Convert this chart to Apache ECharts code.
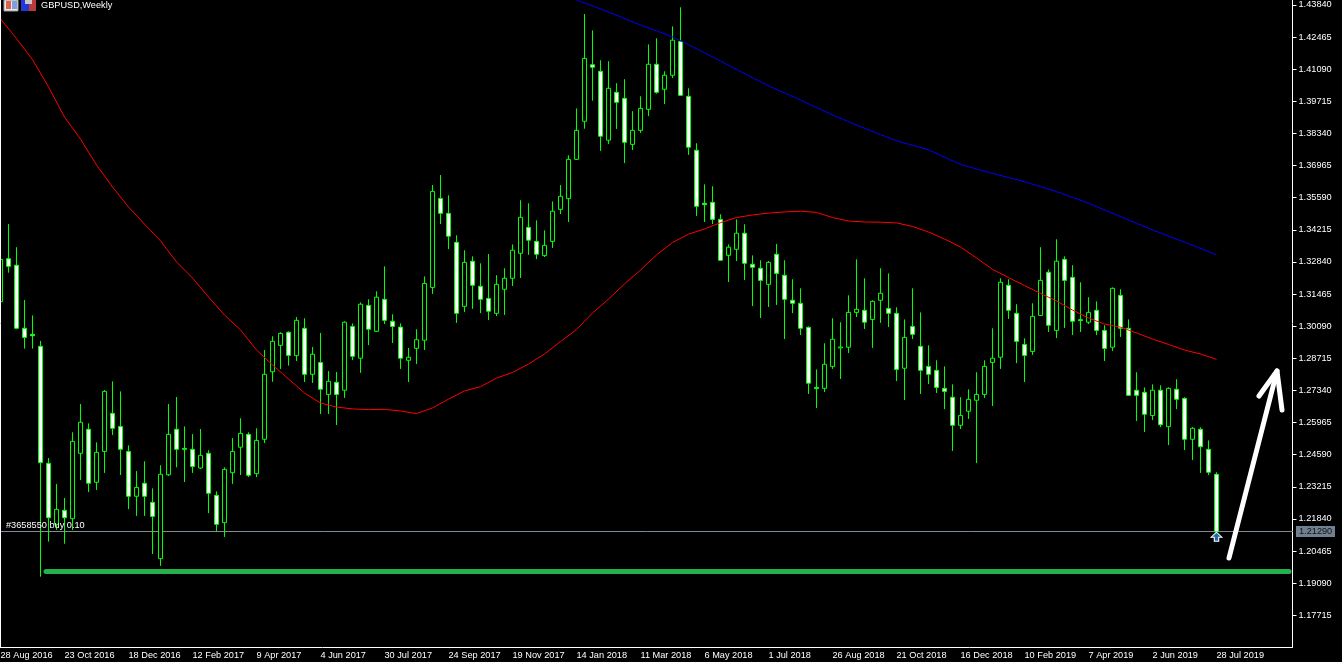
<!DOCTYPE html>
<html>
<head>
<meta charset="utf-8">
<title>GBPUSD,Weekly</title>
<script src="https://cdn.jsdelivr.net/npm/echarts@6/dist/echarts.min.js"></script>
<style>
html,body{margin:0;padding:0;background:#000;}
#Map{width:1342px;height:662px;}
</style>
</head>
<body>
<div id="Map"></div>
<script>
// weekly bars, each one is [open, close, low, high]
var candles = [
[1.3114,1.3295,1.3078,1.3335],[1.3298,1.3265,1.3238,1.3446],[1.3270,1.3000,1.2996,1.3347],[1.3000,1.2961,1.2913,1.3121],
[1.2974,1.2968,1.2913,1.3055],[1.2923,1.2425,1.1937,1.2946],[1.2422,1.2189,1.2087,1.2445],[1.2161,1.2225,1.2137,1.2334],
[1.2221,1.2189,1.2078,1.2274],[1.2185,1.2516,1.2137,1.2555],[1.2465,1.2598,1.2351,1.2676],[1.2568,1.2337,1.2299,1.2593],
[1.2341,1.2469,1.2308,1.2512],[1.2473,1.2730,1.2381,1.2736],[1.2636,1.2572,1.2543,1.2773],[1.2580,1.2482,1.2372,1.2730],
[1.2473,1.2281,1.2226,1.2499],[1.2281,1.2319,1.2197,1.2389],[1.2337,1.2281,1.2197,1.2431],[1.2255,1.2195,1.2034,1.2315],
[1.2014,1.2375,1.1983,1.2414],[1.2373,1.2546,1.2368,1.2676],[1.2568,1.2482,1.2405,1.2706],[1.2486,1.2482,1.2342,1.2580],
[1.2482,1.2408,1.2381,1.2547],[1.2402,1.2456,1.2398,1.2569],[1.2465,1.2294,1.2209,1.2478],[1.2285,1.2161,1.2132,1.2302],
[1.2168,1.2396,1.2107,1.2405],[1.2382,1.2473,1.2334,1.2530],[1.2491,1.2550,1.2372,1.2615],[1.2546,1.2371,1.2363,1.2555],
[1.2378,1.2520,1.2363,1.2572],[1.2525,1.2803,1.2509,1.2907],[1.2814,1.2944,1.2771,1.2966],[1.2927,1.2978,1.2826,1.2983],
[1.2983,1.2884,1.2840,1.2987],[1.2883,1.3034,1.2860,1.3048],[1.3000,1.2803,1.2770,1.3043],[1.2803,1.2889,1.2766,1.2920],
[1.2854,1.2739,1.2633,1.2980],[1.2717,1.2773,1.2633,1.2817],[1.2769,1.2717,1.2586,1.2813],[1.2735,1.3026,1.2702,1.3030],
[1.3008,1.2880,1.2864,1.3021],[1.2872,1.3103,1.2809,1.3111],[1.3098,1.2996,1.2928,1.3124],[1.2987,1.3133,1.2984,1.3158],
[1.3124,1.3034,1.3018,1.3265],[1.3030,1.3008,1.2937,1.3060],[1.3005,1.2872,1.2826,1.3021],[1.2863,1.2876,1.2770,1.2916],
[1.2914,1.2951,1.2847,1.2996],[1.2949,1.3192,1.2907,1.3222],[1.3175,1.3586,1.3147,1.3613],[1.3556,1.3492,1.3446,1.3656],
[1.3492,1.3394,1.3339,1.3569],[1.3368,1.3064,1.3023,1.3398],[1.3094,1.3282,1.3070,1.3334],[1.3287,1.3184,1.3083,1.3308],
[1.3180,1.3124,1.3065,1.3278],[1.3128,1.3073,1.3035,1.3318],[1.3064,1.3188,1.3052,1.3227],[1.3167,1.3214,1.3057,1.3257],
[1.3214,1.3334,1.3181,1.3359],[1.3321,1.3475,1.3215,1.3548],[1.3432,1.3377,1.3314,1.3535],[1.3372,1.3317,1.3296,1.3462],
[1.3311,1.3355,1.3305,1.3419],[1.3372,1.3501,1.3344,1.3543],[1.3509,1.3565,1.3489,1.3613],[1.3555,1.3723,1.3455,1.3740],
[1.3723,1.3847,1.3720,1.3941],[1.3886,1.4155,1.3854,1.4345],[1.4128,1.4117,1.3974,1.4275],[1.4100,1.3822,1.3759,1.4147],
[1.3805,1.4027,1.3789,1.4143],[1.4010,1.3967,1.3853,1.4049],[1.3984,1.3796,1.3707,1.4066],[1.3787,1.3847,1.3763,1.3929],
[1.3847,1.3941,1.3836,1.3993],[1.3937,1.4130,1.3908,1.4215],[1.4130,1.4010,1.4004,1.4241],[1.4023,1.4083,1.3960,1.4100],
[1.4083,1.4233,1.4071,1.4292],[1.4227,1.3997,1.3995,1.4374],[1.3993,1.3775,1.3742,1.4027],[1.3762,1.3522,1.3481,1.3792],
[1.3535,1.3529,1.3455,1.3616],[1.3539,1.3466,1.3446,1.3608],[1.3466,1.3291,1.3288,1.3488],[1.3312,1.3347,1.3198,1.3359],
[1.3338,1.3407,1.3288,1.3466],[1.3407,1.3278,1.3207,1.3445],[1.3274,1.3261,1.3095,1.3312],[1.3257,1.3205,1.3044,1.3291],
[1.3188,1.3282,1.3091,1.3288],[1.3317,1.3235,1.3100,1.3361],[1.3227,1.3124,1.2954,1.3291],[1.3120,1.3107,1.3065,1.3210],
[1.3107,1.3000,1.2971,1.3171],[1.3004,1.2765,1.2719,1.3008],[1.2747,1.2742,1.2659,1.2824],[1.2743,1.2846,1.2727,1.2936],
[1.2837,1.2953,1.2826,1.3043],[1.2916,1.2920,1.2783,1.3026],[1.2919,1.3068,1.2894,1.3141],[1.3068,1.3081,1.3048,1.3295],
[1.3077,1.3026,1.2997,1.3214],[1.3038,1.3115,1.2916,1.3120],[1.3120,1.3150,1.3023,1.3257],[1.3085,1.3064,1.3005,1.3235],
[1.3064,1.2824,1.2774,1.3090],[1.2829,1.2961,1.2693,1.3038],[1.3008,1.2974,1.2954,1.3171],[1.2923,1.2820,1.2719,1.3068],
[1.2837,1.2803,1.2761,1.2927],[1.2820,1.2747,1.2723,1.2863],[1.2743,1.2730,1.2654,1.2837],[1.2705,1.2585,1.2475,1.2760],
[1.2585,1.2627,1.2569,1.2705],[1.2645,1.2696,1.2612,1.2739],[1.2692,1.2717,1.2423,1.2812],[1.2717,1.2837,1.2702,1.2863],
[1.2854,1.2872,1.2667,1.3000],[1.2876,1.3197,1.2826,1.3214],[1.3184,1.3077,1.3040,1.3210],[1.3064,1.2944,1.2851,1.3103],
[1.2931,1.2884,1.2770,1.2957],[1.2901,1.3051,1.2886,1.3107],[1.3055,1.3205,1.3053,1.3347],[1.3240,1.3013,1.2984,1.3252],
[1.2991,1.3287,1.2958,1.3381],[1.3295,1.3205,1.3001,1.3308],[1.3218,1.3030,1.2971,1.3270],[1.3037,1.3033,1.2984,1.3197],
[1.3026,1.3068,1.3018,1.3133],[1.3077,1.2991,1.2971,1.3115],[1.2991,1.2914,1.2860,1.3013],[1.2919,1.3171,1.2903,1.3175],
[1.3141,1.3000,1.2963,1.3167],[1.3000,1.2713,1.2710,1.3038],[1.2735,1.2713,1.2603,1.2812],[1.2726,1.2632,1.2556,1.2747],
[1.2627,1.2735,1.2607,1.2760],[1.2735,1.2587,1.2577,1.2756],[1.2579,1.2743,1.2500,1.2747],[1.2739,1.2696,1.2654,1.2782],
[1.2700,1.2525,1.2479,1.2705],[1.2525,1.2572,1.2436,1.2577],[1.2568,1.2493,1.2381,1.2576],[1.2482,1.2384,1.2372,1.2520],
[1.2375,1.2129,1.2129,1.2384]
];

// moving averages. red, blue every 4th
var redStep = 2;
var redMA = [1.4324,1.4240,1.4150,1.4033,1.3904,1.3810,1.3699,1.3605,1.3519,1.3446,1.3374,1.3284,1.3215,1.3134,
  1.3057,1.2993,1.2907,1.2843,1.2783,1.2723,1.2680,1.2663,1.2655,1.2652,1.2653,1.2646,1.2635,1.2659,1.2697,
  1.2732,1.2750,1.2787,1.2811,1.2847,1.2890,1.2943,1.2995,1.3065,1.3125,1.3190,1.3249,1.3314,1.3367,1.3403,
  1.3425,1.3452,1.3474,1.3485,1.3493,1.3498,1.3501,1.3496,1.3474,1.3459,1.3455,1.3454,1.3451,1.3436,1.3412,
  1.3382,1.3348,1.3301,1.3252,1.3217,1.3183,1.3149,1.3117,1.3078,1.3044,1.3018,1.3005,1.2980,1.2954,1.2931,
  1.2907,1.2890,1.2867];
var blueStart = 72;
var blueStep = 4;
var blueMA = [1.4405,1.4354,1.4298,1.4247,1.4179,1.4108,1.4038,1.3977,1.3913,1.3856,1.3803,1.3763,1.3702,1.3663,
  1.3627,1.3585,1.3535,1.3478,1.3421,1.3369,1.3314];

var priceTicks = [1.43840,1.42465,1.41090,1.39715,1.38340,1.36965,1.35590,1.34215,1.32840,1.31465,
  1.30090,1.28715,1.27340,1.25965,1.24590,1.23215,1.21840,1.20465,1.19090,1.17715];
var orderPrice = 1.21290;
var orderLabel = '#3658550 buy 0.10';
var supportLevel = 1.1959;

var months = ['Jan','Feb','Mar','Apr','May','Jun','Jul','Aug','Sep','Oct','Nov','Dec'];
var firstWeek = Date.UTC(2016, 7, 28);
var week = 7 * 24 * 3600 * 1000;
var categories = [];
for (var i = 0; i < candles.length; i++) {
  var d = new Date(firstWeek + i * week);
  categories.push(d.getUTCDate() + ' ' + months[d.getUTCMonth()] + ' ' + d.getUTCFullYear());
}
// empty room right of the last bar
for (var i = 0; i < 9; i++) categories.push('');

function pairs(values, start, step) {
  var out = [];
  for (var i = 0; i < values.length; i++) out.push([start + i * step, values[i]]);
  return out;
}
function everyEighth(index, value) {
  return index % 8 === 0 && value !== '';
}

var labelFont = 'Liberation Sans';
var labelSize = 9.2;

var myChart = echarts.init(document.getElementById('Map'));
var option = {
  backgroundColor: '#000',
  animation: false,
  grid: { left: -3.5, right: 49.5, top: 0, bottom: 15, outerBoundsMode: 'none' },
  xAxis: {
    type: 'category',
    data: categories,
    boundaryGap: true,
    axisLine: { lineStyle: { color: '#fff', width: 1 } },
    axisTick: { interval: everyEighth, alignWithLabel: true, length: 4, lineStyle: { color: '#fff' } },
    axisLabel: { interval: everyEighth, align: 'left', margin: 4, color: '#fff', fontFamily: labelFont, fontSize: labelSize, hideOverlap: false, showMinLabel: true, showMaxLabel: true },
    splitLine: { show: false }
  },
  yAxis: {
    type: 'value',
    position: 'right',
    min: 1.1636,
    max: 1.4405,
    scale: true,
    axisLine: { show: true, lineStyle: { color: '#fff', width: 1 } },
    axisTick: { show: true, length: 4, customValues: priceTicks, lineStyle: { color: '#fff' } },
    axisLabel: {
      customValues: priceTicks, margin: 6, color: '#fff', fontFamily: labelFont, fontSize: labelSize,
      formatter: function (v) { return v.toFixed(5); }
    },
    splitLine: { show: false }
  },
  series: [
    {
      name: 'GBPUSD',
      type: 'candlestick',
      data: candles,
      barWidth: 4,
      itemStyle: {
        color: '#000', color0: '#fff',
        borderColor: '#00ff00', borderColor0: '#00ff00', borderColorDoji: '#00ff00',
        borderWidth: 1
      },
      markPoint: {
        silent: true,
        symbol: 'path://M5 0 L10 5 L7 5 L7 9 L3 9 L3 5 L0 5 Z',
        symbolSize: [11, 9],
        label: { show: false },
        itemStyle: { color: '#1b6ca8', borderColor: '#fff', borderWidth: 1 },
        data: [{ coord: [categories[152], 1.2108] }]
      }
    },
    {
      name: 'MA red',
      type: 'line',
      data: pairs(redMA, 0, redStep),
      showSymbol: false,
      lineStyle: { color: '#ff0000', width: 1 },
      z: 3
    },
    {
      name: 'MA blue',
      type: 'line',
      data: pairs(blueMA, blueStart, blueStep),
      showSymbol: false,
      smooth: 0.15,
      lineStyle: { color: '#0000ff', width: 1 },
      z: 3
    }
  ]
};
myChart.setOption(option);

// terminal furniture and the hand drawn marks, on top of the chart
var orderY = Math.floor(myChart.convertToPixel({ yAxisIndex: 0 }, orderPrice)) + 0.5;
var supportY = myChart.convertToPixel({ yAxisIndex: 0 }, supportLevel);
var textStyle = { fill: '#fff', font: labelSize + 'px "' + labelFont + '"' };
myChart.setOption({
  graphic: [
    { type: 'line', z: 10, shape: { x1: 0.5, y1: 0, x2: 0.5, y2: 647 }, style: { stroke: '#fff', lineWidth: 1 } },
    { type: 'line', z: 1, shape: { x1: 0, y1: orderY, x2: 1293, y2: orderY }, style: { stroke: '#7f8b96', lineWidth: 1 } },
    // window icons
    { type: 'rect', z: 10, shape: { x: 4, y: 0, width: 14, height: 11 }, style: { fill: '#e8e8e8', stroke: '#9a9a9a' } },
    { type: 'rect', z: 11, shape: { x: 6, y: 1, width: 5, height: 8 }, style: { fill: '#d9634c' } },
    { type: 'rect', z: 11, shape: { x: 12, y: 1, width: 5, height: 8 }, style: { fill: '#7f9fdc' } },
    { type: 'rect', z: 10, shape: { x: 21, y: 0, width: 8, height: 11 }, style: { fill: '#2238d8' } },
    { type: 'rect', z: 10, shape: { x: 29, y: 0, width: 7, height: 11 }, style: { fill: '#b83a3a' } },
    { type: 'rect', z: 11, shape: { x: 25, y: 0, width: 7, height: 4 }, style: { fill: '#c8c8c8' } },
    { type: 'text', z: 10, x: 41, y: 1, style: Object.assign({ text: 'GBPUSD,Weekly' }, textStyle) },
    { type: 'text', z: 10, x: 6, y: orderY - 11, style: Object.assign({ text: orderLabel }, textStyle) },
    // last price tag
    { type: 'rect', z: 10, shape: { x: 1296, y: orderY - 5.5, width: 39, height: 11 }, style: { fill: '#708090' } },
    { type: 'text', z: 11, x: 1299, y: orderY - 5, style: { text: orderPrice.toFixed(5), fill: '#111', font: textStyle.font } },
    // support line and arrow
    { type: 'line', z: 10, shape: { x1: 46, y1: supportY, x2: 1289, y2: supportY }, style: { stroke: '#22b14c', lineWidth: 5, lineCap: 'round' } },
    { type: 'polyline', z: 10, shape: { points: [[1229, 558], [1277, 371]] }, style: { stroke: '#fff', lineWidth: 5, lineCap: 'round', fill: null } },
    { type: 'polyline', z: 10, shape: { points: [[1259, 396], [1277, 371], [1282, 410]] }, style: { stroke: '#fff', lineWidth: 5, lineCap: 'round', lineJoin: 'round', fill: null } }
  ]
});
</script>
</body>
</html>
